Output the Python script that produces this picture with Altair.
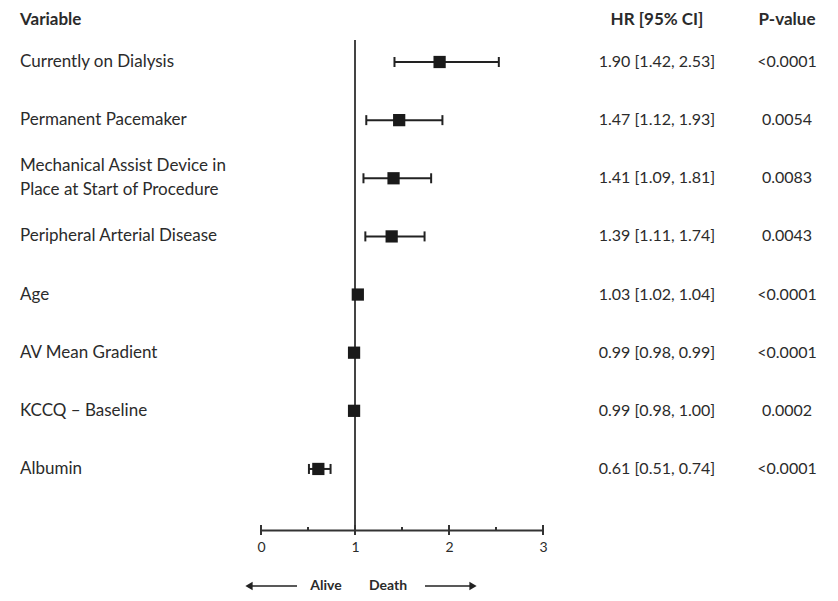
import altair as alt
import pandas as pd

# ---- data ----
variables = [
    "Currently on Dialysis",
    "Permanent Pacemaker",
    "Mechanical Assist Device in\nPlace at Start of Procedure",
    "Peripheral Arterial Disease",
    "Age",
    "AV Mean Gradient",
    "KCCQ – Baseline",
    "Albumin",
]
hr = [1.90, 1.47, 1.41, 1.39, 1.03, 0.99, 0.99, 0.61]
ci_low = [1.42, 1.12, 1.09, 1.11, 1.02, 0.98, 0.98, 0.51]
ci_high = [2.53, 1.93, 1.81, 1.74, 1.04, 0.99, 1.00, 0.74]
hr_text = [
    "1.90 [1.42, 2.53]",
    "1.47 [1.12, 1.93]",
    "1.41 [1.09, 1.81]",
    "1.39 [1.11, 1.74]",
    "1.03 [1.02, 1.04]",
    "0.99 [0.98, 0.99]",
    "0.99 [0.98, 1.00]",
    "0.61 [0.51, 0.74]",
]
p_values = ["<0.0001", "0.0054", "0.0083", "0.0043", "<0.0001", "<0.0001", "0.0002", "<0.0001"]
rows = list(range(1, 9))
major_ticks = [0, 1, 2, 3]
minor_ticks = [0.5, 1.5, 2.5]

df = pd.DataFrame({
    "row": rows, "variable": variables, "hr": hr, "lo": ci_low, "hi": ci_high,
    "hr_text": hr_text, "p": p_values,
})

# one text line per record; multi-line labels are centred on their row
ROW_PX = 58.14
LINE_PX = 24
lab_rows = []
for r, v in zip(rows, variables):
    parts = v.split("\n")
    n = len(parts)
    for i, s in enumerate(parts):
        lab_rows.append({"ty": r + (i - (n - 1) / 2) * LINE_PX / ROW_PX, "line": s})
lab_df = pd.DataFrame(lab_rows)

ticks_major = pd.DataFrame({"t": major_ticks})
ticks_minor = pd.DataFrame({"t": minor_ticks})
one = pd.DataFrame({"a": [0]})

FONT = "Lato"
INK = "#222222"
TXT = "#2b2b2b"

xs = alt.Scale(domain=[0, 3], nice=False, zero=False)
ys = alt.Scale(domain=[0.2776, 9.05], reverse=True, nice=False, zero=False)
xaxis = alt.Axis(values=major_ticks, format="d", ticks=False, grid=False,
                 domain=True, domainColor="#333333", domainWidth=2,
                 labelFont=FONT, labelFontSize=14, labelColor=TXT,
                 labelFlush=False, labelPadding=10, title=None)


def X(f):
    return alt.X(f, type="quantitative", scale=xs, axis=xaxis, title=None)


Y = alt.Y("row:Q", scale=ys, axis=None)

base = alt.Chart(df)

whisk = base.mark_rule(color=INK, strokeWidth=2).encode(x=X("lo"), x2="hi", y=Y)
cap_lo = base.mark_point(shape="M0,-1L0,1", size=100, filled=False, color=INK,
                         strokeWidth=2, opacity=1).encode(x=X("lo"), y=Y)
cap_hi = base.mark_point(shape="M0,-1L0,1", size=100, filled=False, color=INK,
                         strokeWidth=2, opacity=1).encode(x=X("hi"), y=Y)
squares = base.mark_square(size=150, color="#1a1a1a", opacity=1).encode(x=X("hr"), y=Y)

ref = alt.Chart(one).mark_rule(color="#444444", strokeWidth=2).encode(
    x=alt.datum(1, type="quantitative", scale=xs, axis=xaxis),
    y=alt.value(20), y2=alt.value(510))

tmaj = alt.Chart(ticks_major).mark_point(shape="M0,-1L0,1", size=100, filled=False,
                                         color="#333333", strokeWidth=2, opacity=1).encode(
    x=X("t"), y=alt.value(510))
tmin = alt.Chart(ticks_minor).mark_point(shape="M0,-1L0,0", size=36, filled=False,
                                         color="#333333", strokeWidth=2, opacity=1).encode(
    x=X("t"), y=alt.value(510))

labels = alt.Chart(lab_df).mark_text(align="left", baseline="middle", font=FONT, fontSize=17,
                                     color=TXT).encode(
    x=alt.value(-241), y=alt.Y("ty:Q", scale=ys, axis=None), text="line:N")
hr_col = base.mark_text(align="center", baseline="middle", font=FONT, fontSize=16,
                        color=TXT).encode(x=alt.value(396), y=Y, text="hr_text:N")
p_col = base.mark_text(align="center", baseline="middle", font=FONT, fontSize=16,
                       color=TXT).encode(x=alt.value(526), y=Y, text="p:N")


def head(txt, x, align):
    return alt.Chart(one).mark_text(align=align, baseline="middle", font=FONT, fontSize=17,
                                    fontWeight="bold", color=TXT).encode(
        x=alt.value(x), y=alt.value(0), text=alt.value(txt))


h1 = head("Variable", -241, "left")
h2 = head("HR [95% CI]", 396, "center")
h3 = head("P-value", 526, "center")

AY = 566
arrow_l = alt.Chart(one).mark_rule(color=INK, strokeWidth=1.5).encode(
    x=alt.value(-14), x2=alt.value(36), y=alt.value(AY))
arrow_r = alt.Chart(one).mark_rule(color=INK, strokeWidth=1.5).encode(
    x=alt.value(164), x2=alt.value(214), y=alt.value(AY))
head_l = alt.Chart(one).mark_point(shape="triangle-left", size=70, filled=True, color=INK,
                                   opacity=1).encode(x=alt.value(-12), y=alt.value(AY))
head_r = alt.Chart(one).mark_point(shape="triangle-right", size=70, filled=True, color=INK,
                                   opacity=1).encode(x=alt.value(212), y=alt.value(AY))
alive = alt.Chart(one).mark_text(align="center", baseline="middle", font=FONT, fontSize=14,
                                 fontWeight="bold", color=TXT).encode(
    x=alt.value(65), y=alt.value(AY), text=alt.value("Alive"))
death = alt.Chart(one).mark_text(align="center", baseline="middle", font=FONT, fontSize=14,
                                 fontWeight="bold", color=TXT).encode(
    x=alt.value(127), y=alt.value(AY), text=alt.value("Death"))

chart = alt.layer(
    whisk, cap_lo, cap_hi, ref, squares, tmaj, tmin,
    labels, hr_col, p_col, h1, h2, h3,
    arrow_l, arrow_r, head_l, head_r, alive, death,
).properties(
    width=282, height=510,
    autosize=alt.AutoSizeParams(type="none"),
    padding={"left": 253, "top": 12, "right": 287, "bottom": 63},
    background="white",
).configure_view(stroke=None)

chart.save("out.html", embed_options={"renderer": "svg", "actions": False})
